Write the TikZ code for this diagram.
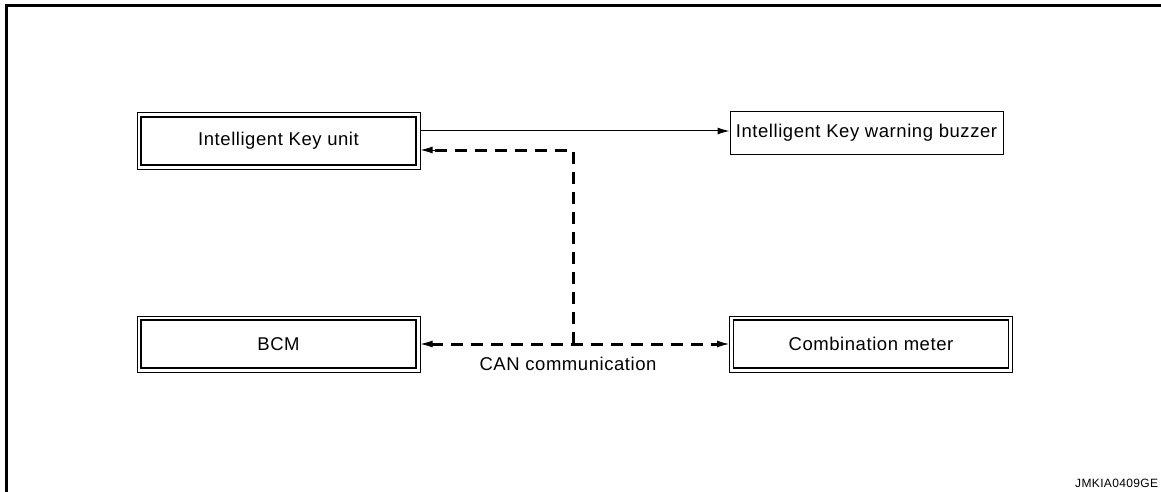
\documentclass[tikz,border=0pt]{standalone}
\usepackage{fontspec}
\setmainfont{Liberation Sans}[LetterSpace=3]
\usetikzlibrary{arrows.meta}
\begin{document}
\begin{tikzpicture}[x=1pt,y=-1pt,
  dbox/.style={draw, line width=1pt, minimum width=283pt, minimum height=56pt, inner sep=0pt, font=\fontsize{18.5}{20}\selectfont},
  sbox/.style={draw, line width=1pt, minimum width=273pt, minimum height=42pt, inner sep=0pt, font=\fontsize{18.5}{20}\selectfont},
  innerline/.style={line width=1.8pt},
  tip/.style={-{Latex[length=12pt,width=7pt]}},
  can/.style={line width=3pt, dash pattern=on 12pt off 8pt},
  lbl/.style={font=\fontsize{18.5}{20}\selectfont, inner sep=0pt}]
\useasboundingbox (0,0) rectangle (1161,492);
\draw[line width=3pt] (6,492) -- (6,6) -- (1161,6);
\node[dbox] (iku) at (278.5,141) {Intelligent Key unit};
\node[sbox] (buz) at (866.5,133) {Intelligent Key warning buzzer};
\node[dbox] (bcm) at (278.5,344) {BCM};
\node[dbox] (cm) at (871,344) {Combination meter};
\foreach \n in {iku,bcm,cm}
  \draw[innerline] ([xshift=4.5pt,yshift=-4.5pt]\n.north west) rectangle ([xshift=-4.5pt,yshift=4.5pt]\n.south east);
\draw[line width=1pt, tip] (iku.east |- 0,131) coordinate (s0) -- (s0 -| buz.west);
\coordinate (t) at (573,150);
\coordinate (j) at (573,344);
\draw[can] (j) -- (t) -- ([xshift=10pt]t -| iku.east);
\draw[tip, line width=1pt] ([xshift=16pt]t -| iku.east) -- (t -| iku.east);
\draw[can] ([xshift=10pt]bcm.east) -- ([xshift=-10pt]cm.west);
\draw[tip, line width=1pt] ([xshift=16pt]bcm.east) -- (bcm.east);
\draw[tip, line width=1pt] ([xshift=-16pt]cm.west) -- (cm.west);
\node[lbl] (canlbl) at (568,364) {CAN communication};
\node[anchor=west, inner sep=0pt, font=\fontsize{12}{14}\selectfont] (code) at (1075,483) {JMKIA0409GE};
\end{tikzpicture}
\end{document}
